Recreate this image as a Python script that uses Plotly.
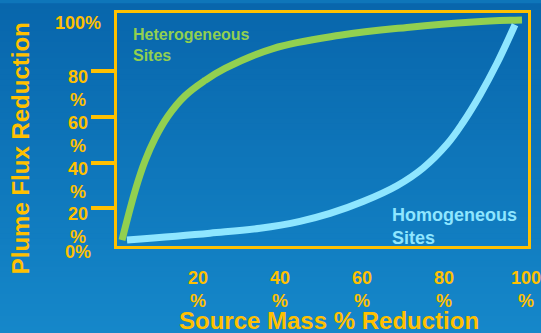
import plotly.graph_objects as go

# Source mass reduction (%) vs plume flux reduction (%)
hetero_x = [0, 3.43, 5.75, 8.25, 11.5, 15.75, 20.75, 25.75, 37.75, 54.5, 71.25, 87.75, 100]
hetero_y = [0, 23.3, 35.9, 46.2, 56.3, 65.5, 72.5, 78.0, 87.0, 93.0, 96.6, 99.1, 100]

homo_x = [1.25, 22, 34.5, 44.5, 52, 60.25, 68.75, 75.25, 81.25, 85.25, 89.5, 93.75, 98.25]
homo_y = [0, 3.14, 5.38, 8.52, 12.1, 17.5, 24.7, 32.7, 43.5, 53.4, 65.9, 80.3, 97.8]

x_tick_vals = [20, 40, 60, 80, 100]
x_tick_text = ["20<br>%", "40<br>%", "60<br>%", "80<br>%", "100<br>%"]
y_tick_vals = [0, 20, 40, 60, 80, 100]
y_tick_text = ["0%", "20<br>%", "40<br>%", "60<br>%", "80<br>%", "100%"]

ORANGE = "#FFC000"
GREEN = "#92D050"
CYAN = "#8EE6FF"
FONT = "Arial, Liberation Sans, sans-serif"

W, H = 541, 333
ML, MR, MT, MB = 117, 13, 10, 87
PW, PH = W - ML - MR, H - MT - MB


def paper_y(px):
    """Convert a pixel row of the figure to paper y."""
    return (MT + PH - px) / PH


def paper_x(px):
    return (px - ML) / PW


# scales of the percentage labels (pixel of 0 % and pixels per %)
Y_LAB_ZERO, Y_LAB_STEP = 254.3, 2.317
X_LAB_ZERO, X_LAB_STEP = 116.0, 4.095

fig = go.Figure()

fig.add_trace(go.Scatter(
    x=hetero_x, y=hetero_y, mode="lines",
    line=dict(color=GREEN, width=7, shape="spline", smoothing=1.1),
    hoverinfo="skip", showlegend=False))
fig.add_trace(go.Scatter(
    x=homo_x, y=homo_y, mode="lines",
    line=dict(color=CYAN, width=7, shape="spline", smoothing=1.1),
    hoverinfo="skip", showlegend=False))

# invisible trace to activate the tick-mark axis
fig.add_trace(go.Scatter(x=[None], y=[None], yaxis="y2", showlegend=False))

# vertical blue gradient background
top_rgb = (8, 102, 172)
bot_rgb = (21, 135, 201)
n_bands = 60
for i in range(n_bands):
    t = i / (n_bands - 1)
    c = tuple(round(a + (b - a) * t) for a, b in zip(top_rgb, bot_rgb))
    y_top_px = H * i / n_bands
    y_bot_px = H * (i + 1) / n_bands + 1
    fig.add_shape(
        type="rect", xref="paper", yref="paper", layer="below",
        x0=-ML / PW, x1=1 + MR / PW,
        y0=paper_y(y_bot_px), y1=paper_y(y_top_px),
        line=dict(width=0), fillcolor="rgb(%d,%d,%d)" % c)

# y tick labels
for v, t in zip(y_tick_vals, y_tick_text):
    multi = "<br>" in t
    fig.add_annotation(
        xref="paper", yref="paper", x=paper_x(77.7), y=paper_y(Y_LAB_ZERO - Y_LAB_STEP * v),
        text="<b>%s</b>" % t, showarrow=False, xanchor="center",
        yanchor="top" if multi else "middle", yshift=6 if multi else 2,
        font=dict(family=FONT, size=18, color=ORANGE))

# x tick labels
for v, t in zip(x_tick_vals, x_tick_text):
    fig.add_annotation(
        xref="paper", yref="paper", x=paper_x(X_LAB_ZERO + X_LAB_STEP * v), y=paper_y(266),
        text="<b>%s</b>" % t, showarrow=False, xanchor="center", yanchor="top",
        font=dict(family=FONT, size=18, color=ORANGE))

# series labels
fig.add_annotation(
    xref="paper", yref="paper", x=paper_x(131), y=paper_y(21),
    text="<b>Heterogeneous<br>Sites</b>", showarrow=False, xanchor="left", yanchor="top",
    align="left", font=dict(family=FONT, size=16, color=GREEN))
fig.add_annotation(
    xref="paper", yref="paper", x=paper_x(390), y=paper_y(202),
    text="<b>Homogeneous<br>Sites</b>", showarrow=False, xanchor="left", yanchor="top",
    align="left", font=dict(family=FONT, size=18, color=CYAN))

# axis titles
fig.add_annotation(
    xref="paper", yref="paper", x=paper_x(329), y=paper_y(321),
    text="<b>Source Mass % Reduction</b>", showarrow=False, xanchor="center", yanchor="middle",
    font=dict(family=FONT, size=24, color=ORANGE))
fig.add_annotation(
    xref="paper", yref="paper", x=paper_x(20), y=paper_y(147),
    text="<b>Plume Flux Reduction</b>", showarrow=False, textangle=-90,
    xanchor="center", yanchor="middle",
    font=dict(family=FONT, size=24, color=ORANGE))

axis_box = dict(showline=True, mirror=True, linecolor=ORANGE, linewidth=2.5,
                showgrid=False, zeroline=False, showticklabels=False, ticks="")

y2_lo = (Y_LAB_ZERO - (MT + PH)) / Y_LAB_STEP
y2_hi = (Y_LAB_ZERO - MT) / Y_LAB_STEP

fig.update_layout(
    width=W, height=H,
    margin=dict(l=ML, r=MR, t=MT, b=MB),
    paper_bgcolor="rgb(14,118,186)",
    plot_bgcolor="rgba(0,0,0,0)",
    xaxis=dict(range=[-1.25, 101.5], **axis_box),
    yaxis=dict(range=[-2.69, 103.14], **axis_box),
    yaxis2=dict(overlaying="y", anchor="x", side="left", range=[y2_lo, y2_hi],
                tickvals=y_tick_vals[1:-1], ticks="outside", ticklen=25, tickwidth=3.5,
                tickcolor=ORANGE, showticklabels=False,
                showline=False, showgrid=False, zeroline=False),
)

fig.write_html("out.html")
